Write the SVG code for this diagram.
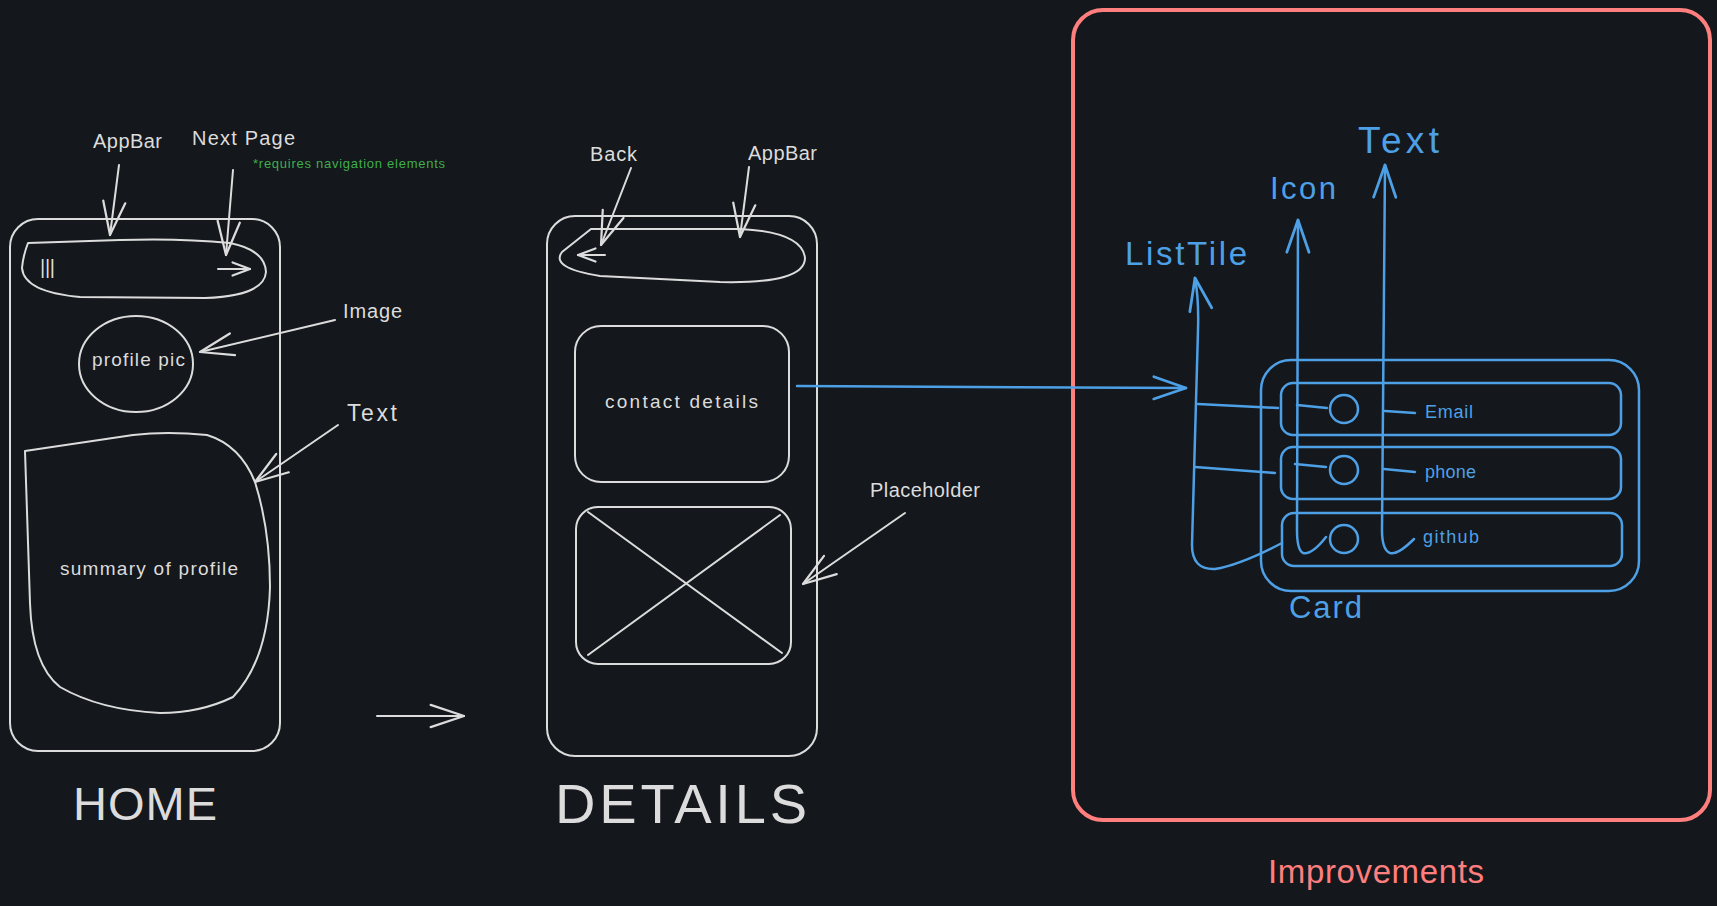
<svg xmlns="http://www.w3.org/2000/svg" width="1717" height="906" viewBox="0 0 1717 906">
<defs>
<style>
.w{fill:none;stroke:#dcdcdc;stroke-width:2;stroke-linecap:round;stroke-linejoin:round}
.b{fill:none;stroke:#4ea0e6;stroke-width:2.5;stroke-linecap:round;stroke-linejoin:round}
.r{fill:none;stroke:#ff7e7e;stroke-width:4}
text{font-family:"Liberation Sans",Arial,sans-serif}
.tw{fill:#dcdcdc}
.tb{fill:#4ea0e6}
.ts{fill:#4ea0e6}
.big{fill:#dcdcdc}
</style>
<marker id="aw" markerUnits="userSpaceOnUse" markerWidth="40" markerHeight="40" viewBox="-32 -16 36 32" refX="0" refY="0" orient="auto" overflow="visible">
<path d="M-30,-10 L0,0 L-30,10" fill="none" stroke="#dcdcdc" stroke-width="2" stroke-linecap="round" stroke-linejoin="round"/>
</marker>
<marker id="aws" markerUnits="userSpaceOnUse" markerWidth="24" markerHeight="24" viewBox="-18 -10 22 20" refX="0" refY="0" orient="auto" overflow="visible">
<path d="M-16,-6 L0,0 L-16,6" fill="none" stroke="#dcdcdc" stroke-width="2" stroke-linecap="round" stroke-linejoin="round"/>
</marker>
<marker id="ab" markerUnits="userSpaceOnUse" markerWidth="40" markerHeight="40" viewBox="-32 -16 36 32" refX="0" refY="0" orient="auto" overflow="visible">
<path d="M-29,-10 L0,0 L-29,10" fill="none" stroke="#4ea0e6" stroke-width="2.5" stroke-linecap="round" stroke-linejoin="round"/>
</marker>
</defs>
<rect width="1717" height="906" fill="#14171b"/>

<g id="home">
<rect class="w" x="10" y="219" width="270" height="532" rx="28"/>
<path id="home-appbar" class="w" d="M28,243 Q23,256 22,268 Q24,292 80,297 L205,298 Q264,296 266,272 Q265,250 230,243 Q180,238 120,240 Z"/>
<text class="tw" x="40" y="274" font-size="20" textLength="15">|||</text>
<line class="w" x1="218" y1="269" x2="250" y2="269" marker-end="url(#aws)"/>
<ellipse id="profile-pic" class="w" cx="136" cy="364" rx="57" ry="48"/>
<text class="tw" x="92" y="366" font-size="19" textLength="93">profile pic</text>
<path id="summary" class="w" d="M25,451 L133,435 Q167,431 207,435 Q240,445 255,482 Q270,530 270,587 Q268,660 233,697 Q200,713 160,713 Q100,710 60,687 Q32,665 30,603 L25,451 Z"/>
<text class="tw" x="60" y="575" font-size="19" textLength="178">summary of profile</text>
<text class="big" x="73" y="820" font-size="47" textLength="144">HOME</text>
</g>

<g id="home-labels">
<text class="tw" x="93" y="148" font-size="20" textLength="69">AppBar</text>
<text class="tw" x="192" y="145" font-size="20" textLength="103">Next Page</text>
<text x="253" y="168" fill="#3fae4c" font-size="13" textLength="192">*requires navigation elements</text>
<text class="tw" x="343" y="318" font-size="20" textLength="59">Image</text>
<text class="tw" x="347" y="421" font-size="23" textLength="50">Text</text>
</g>

<g id="details">
<rect class="w" x="547" y="216" width="270" height="540" rx="28"/>
<path id="details-appbar" class="w" d="M591,229 L562,252 Q550,268 600,276 L720,282 Q805,284 805,258 Q802,232 740,229 Z"/>
<line class="w" x1="605" y1="255" x2="578" y2="255" marker-end="url(#aws)"/>
<rect id="contact-details" class="w" x="575" y="326" width="214" height="156" rx="26"/>
<text class="tw" x="605" y="408" font-size="19" textLength="153">contact details</text>
<g id="placeholder-box">
<rect class="w" x="576" y="507" width="215" height="157" rx="22"/>
<line class="w" x1="588" y1="512" x2="782" y2="653"/>
<line class="w" x1="780" y1="515" x2="588" y2="655"/>
</g>
<text class="big" x="555" y="823" font-size="56" textLength="252">DETAILS</text>
</g>

<g id="details-labels">
<text class="tw" x="590" y="161" font-size="20" textLength="47">Back</text>
<text class="tw" x="748" y="160" font-size="20" textLength="69">AppBar</text>
<text class="tw" x="870" y="497" font-size="20" textLength="110">Placeholder</text>
</g>

<g id="improvements">
<rect class="r" x="1073" y="10" width="637" height="810" rx="30"/>
<text x="1268" y="883" fill="#ff7e7e" font-size="33" textLength="216">Improvements</text>
</g>

<g id="card">
<rect class="b" x="1261" y="360" width="378" height="231" rx="30"/>
<rect class="b" x="1281" y="383" width="340" height="52" rx="12"/>
<rect class="b" x="1281" y="447" width="340" height="52" rx="12"/>
<rect class="b" x="1282" y="513" width="340" height="53" rx="12"/>
<circle class="b" cx="1344" cy="409" r="14"/>
<circle class="b" cx="1344" cy="470" r="14"/>
<circle class="b" cx="1344" cy="539" r="14"/>
<text class="ts" x="1425" y="418" font-size="18" textLength="48">Email</text>
<text class="ts" x="1425" y="478" font-size="18" textLength="51">phone</text>
<text class="ts" x="1423" y="543" font-size="18" textLength="56">github</text>
<text class="tb" x="1289" y="618" font-size="31" textLength="73">Card</text>
</g>

<g id="blue-labels">
<text class="tb" x="1358" y="153" font-size="37" textLength="81">Text</text>
<text class="tb" x="1270" y="199" font-size="31" textLength="66">Icon</text>
<text class="tb" x="1125" y="265" font-size="33" textLength="122">ListTile</text>
</g>

<g id="connectors">
<line class="w" x1="119" y1="165" x2="110" y2="235" marker-end="url(#aw)"/>
<line class="w" x1="233" y1="170" x2="226" y2="255" marker-end="url(#aw)"/>
<line class="w" x1="335" y1="320" x2="200" y2="352" marker-end="url(#aw)"/>
<line class="w" x1="338" y1="425" x2="255" y2="482" marker-end="url(#aw)"/>
<line class="w" x1="377" y1="716" x2="464" y2="716" marker-end="url(#aw)"/>
<line class="w" x1="631" y1="168" x2="601" y2="245" marker-end="url(#aw)"/>
<line class="w" x1="749" y1="167" x2="740" y2="237" marker-end="url(#aw)"/>
<line class="w" x1="905" y1="513" x2="803" y2="584" marker-end="url(#aw)"/>
<line class="b" x1="797" y1="386" x2="1186" y2="388" marker-end="url(#ab)"/>
<path class="b" d="M1282,543 Q1240,565 1215,569 Q1192,570 1192,545 L1198,330 Q1199,300 1195,278" marker-end="url(#ab)"/>
<path class="b" d="M1326,537 Q1312,555 1303,553 Q1297,550 1297,530 L1298,220" marker-end="url(#ab)"/>
<path class="b" d="M1414,539 Q1398,555 1390,553 Q1382,550 1382,530 L1385,165" marker-end="url(#ab)"/>
<line class="b" x1="1198" y1="404" x2="1278" y2="408"/>
<line class="b" x1="1195" y1="467" x2="1275" y2="473"/>
<line class="b" x1="1297" y1="405" x2="1327" y2="408"/>
<line class="b" x1="1295" y1="464" x2="1326" y2="467"/>
<line class="b" x1="1385" y1="411" x2="1415" y2="413"/>
<line class="b" x1="1384" y1="469" x2="1415" y2="472"/>
</g>
</svg>
